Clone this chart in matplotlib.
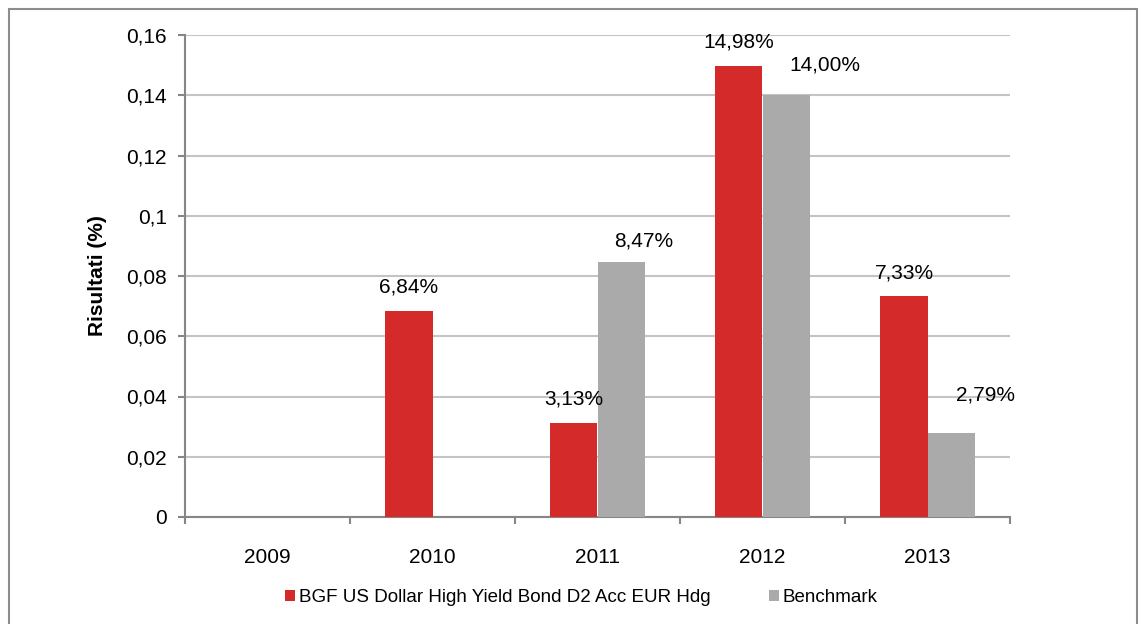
import numpy as np
import matplotlib.pyplot as plt
from matplotlib.patches import Rectangle

plt.rcParams["font.family"] = ["Liberation Sans", "DejaVu Sans"]

years = ["2009", "2010", "2011", "2012", "2013"]
fund = [0.0, 0.0684, 0.0313, 0.1498, 0.0733]
bench = [0.0, 0.0, 0.0847, 0.1400, 0.0279]
fund_labels = [None, "6,84%", "3,13%", "14,98%", "7,33%"]
bench_labels = [None, None, "8,47%", "14,00%", "2,79%"]
yticks = [0, 0.02, 0.04, 0.06, 0.08, 0.1, 0.12, 0.14, 0.16]
ytick_labels = ["0", "0,02", "0,04", "0,06", "0,08", "0,1", "0,12", "0,14", "0,16"]

RED = "#d42a2a"
GREY = "#a9aaa9"
AXIS = "#868686"
GRID = "#c4c4c4"
W = 0.285

fig = plt.figure(figsize=(11.47, 6.24), dpi=100)
fig.patches.append(Rectangle((9 / 1147, -0.05), 1128 / 1147, 1.05 - 9 / 624,
                             transform=fig.transFigure, fill=False,
                             edgecolor="#8c8c8c", lw=1.5))
ax = fig.add_axes([185 / 1147, 1 - 517 / 624, 825 / 1147, 482 / 624])

x = np.arange(len(years))
ax.bar(x - W / 2, fund, W, color=RED, zorder=3,
       label="BGF US Dollar High Yield Bond D2 Acc EUR Hdg")
ax.bar(x + W / 2, bench, W, color=GREY, zorder=3, label="Benchmark")

# value labels above the bars
for i, (v, t) in enumerate(zip(fund, fund_labels)):
    if t:
        ax.annotate(t, (x[i] - W / 2, v), xytext=(0, 17), textcoords="offset points",
                    ha="center", va="center", fontsize=15)
bench_offsets = [None, None, (16, 15), (28, 22), (25, 27)]
for i, (v, t) in enumerate(zip(bench, bench_labels)):
    if t:
        ax.annotate(t, (x[i] + W / 2, v), xytext=bench_offsets[i],
                    textcoords="offset points", ha="center", va="center", fontsize=15)

ax.set_xlim(-0.5, 4.5)
ax.set_ylim(0, 0.16)
ax.set_yticks(yticks)
ax.set_yticklabels(ytick_labels, fontsize=15)
ax.set_xticks(x)
ax.set_xticklabels(years, fontsize=15)
ax.set_xticks(np.arange(-0.5, 5, 1), minor=True)
ax.tick_params(axis="x", which="major", length=0, pad=22)
ax.tick_params(axis="x", which="minor", length=5, width=1.5, color=AXIS)
ax.tick_params(axis="y", length=5, width=1.5, color=AXIS, pad=8)
ax.grid(axis="y", color=GRID, lw=1.5, zorder=0)
for s in ["top", "right"]:
    ax.spines[s].set_visible(False)
for s in ["left", "bottom"]:
    ax.spines[s].set_color(AXIS)
    ax.spines[s].set_linewidth(1.5)
ax.set_ylabel("Risultati (%)", fontsize=15, fontweight="bold", labelpad=14)

ax.legend(loc="center left", bbox_to_anchor=(100 / 825, -0.167), ncol=2, frameon=False,
          fontsize=13.5, handlelength=0.55, handleheight=0.55, handletextpad=0.2,
          columnspacing=3.1, borderpad=0, borderaxespad=0)

fig.savefig("out.png", dpi=100)
